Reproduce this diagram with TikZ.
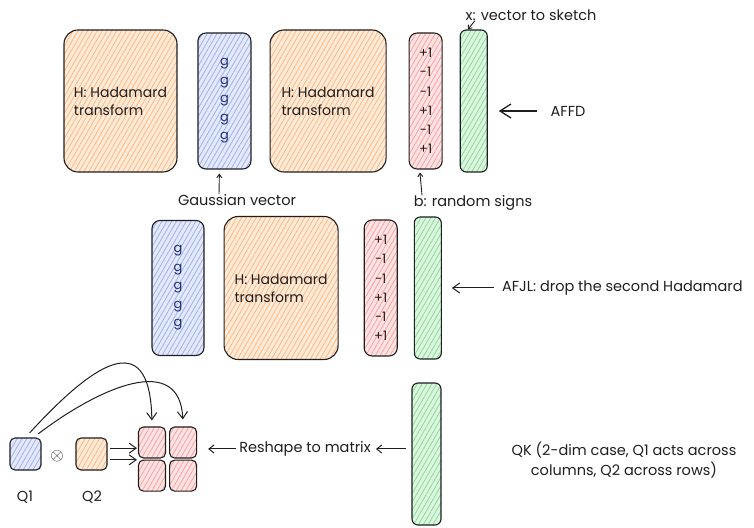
\documentclass[tikz,border=0pt]{standalone}
\usepackage{fontspec}
\setmainfont{Poppins}
\usetikzlibrary{positioning,arrows.meta,patterns.meta}

\definecolor{inkc}{HTML}{1E1E1E}
\definecolor{hadafill}{HTML}{FFB77A}
\definecolor{gaussfill}{HTML}{9FB0F2}
\definecolor{signfill}{HTML}{FF9E9E}
\definecolor{vecfill}{HTML}{86DE95}
\definecolor{gink}{HTML}{22306E}

\begin{document}
\begin{tikzpicture}[
      every node/.style={inner sep=0pt,text=inkc,
                         font=\fontsize{14.5}{18}\selectfont},
      hatched/.style={draw=inkc,line width=1.1pt,preaction={fill=#1!28},
                      pattern={Lines[angle=60,distance=4.2pt,line width=0.8pt]},
                      pattern color=#1},
      hada/.style={hatched=hadafill,rounded corners=14pt,align=left,
                   minimum width=114pt,minimum height=142pt,
                   font=\fontsize{14}{18}\selectfont},
      gauss/.style={hatched=gaussfill,rounded corners=8pt,align=center,
                    minimum width=53pt,minimum height=136pt,text=gink,
                    font=\fontsize{13}{18.5}\selectfont},
      signs/.style={hatched=signfill,rounded corners=8pt,align=center,
                    minimum width=33pt,minimum height=136pt,
                    font=\fontsize{13}{19.3}\selectfont},
      vec/.style={hatched=vecfill,rounded corners=6pt,
                  minimum width=27pt,minimum height=142pt},
      tiny/.style={hatched=#1,rounded corners=5pt,
                   minimum width=31pt,minimum height=32pt},
      cell/.style={hatched=signfill,rounded corners=5pt,
                   minimum width=27pt,minimum height=31pt},
      single/.style={draw=inkc,line width=1pt,
                     -{Straight Barb[length=7pt,width=10pt]}},
      big/.style={draw=inkc,line width=1.3pt,
                  -{Straight Barb[length=11pt,width=14pt]}},
      pointer/.style={draw=inkc,line width=0.9pt,
                      -{Straight Barb[length=3.5pt,width=5pt]}},
    ]
      \useasboundingbox (0,0) rectangle (754pt,527pt);
      \begin{scope}[x=1pt,y=1pt]
      % AFFD
      \node[hada,minimum width=113pt] (h1) at (120.5,426) {H: Hadamard\\transform};
      \node[gauss, right=20pt of h1] (g1) {g\\g\\g\\g\\g};
      \node[hada, minimum width=116pt, right=18pt of g1] (h2) {H: Hadamard\\transform};
      \node[signs, right=22pt of h2] (b1) {+1\\-1\\-1\\+1\\-1\\+1};
      \node[vec, right=17pt of b1] (x1) {};
      \node (xlbl) at (531,512) {x: vector to sketch};
      \node (glbl) at (237,327) {Gaussian vector};
      \node (blbl) at (473,324) {b: random signs};
      \node (affd) at (568,416) {AFFD};
      \path ([xshift=-56pt]xlbl.south) edge[pointer] ([xshift=8pt]x1.north west);
      \path ([xshift=-18pt]glbl.north) edge[pointer,shorten >=4pt] ([xshift=-5pt]g1.south);
      \path ([xshift=-51pt]blbl.north) edge[pointer,shorten >=3pt] ([xshift=-6pt]b1.south);
      \path (affd.west) edge[big,shorten <=13pt,shorten >=11pt] (affd.west -| x1.east);

      % AFJL
      \node[gauss,minimum width=52pt,minimum height=135pt] (g2) at (178,239) {g\\g\\g\\g\\g};
      \node[hada,minimum height=143pt, right=19pt of g2] (h3) {H: Hadamard\\transform};
      \node[signs, right=25pt of h3] (b2) {+1\\-1\\-1\\+1\\-1\\+1};
      \node[vec, right=16pt of b2] (x2) {};
      \node[anchor=west, right=60pt of x2] (afjl) {AFJL: drop the second Hadamard};
      \path (afjl.west) edge[single,shorten <=8pt,shorten >=10pt] (afjl.west -| x2.east);

      % QK
      \node[vec,minimum width=29pt] (x3) at (426.5,73) {};
      \node[tiny=gaussfill] (q1) at (25.5,73) {};
      \node[font=\fontsize{18}{18}\selectfont] (kron) at (57,71) {$\otimes$};
      \node[tiny=hadafill] (q2) at (91.5,73) {};
      \node (q1lbl) at (25,30) {Q1};
      \node (q2lbl) at (92,30) {Q2};
      \node[cell] (m11) at (152,84.5) {};
      \node[cell, right=3pt of m11] (m12) {};
      \node[cell, below=1pt of m11] (m21) {};
      \node[cell, right=3pt of m21] (m22) {};
      \node (reshape) at (305,78) {Reshape to matrix};
      \node[align=center,font=\fontsize{14.5}{20}\selectfont] (qk) at (624,67)
        {QK (2-dim case, Q1 acts across\\columns, Q2 across rows)};
      \draw[single,shorten <=6pt,shorten >=6pt]
        (q1.north) .. controls (90,160) and (150,205) .. (m11.north);
      \draw[single,shorten <=6pt,shorten >=7pt]
        ([xshift=8pt]q1.north) .. controls (100,140) and (180,175) .. (m12.north);
      \path (q2.20) edge[single,shorten <=2pt,shorten >=1pt] (q2.20 -| m11.west);
      \path (q2.-20) edge[single,shorten <=2pt,shorten >=1pt] (q2.-20 -| m21.west);
      \path (reshape.west) edge[pointer,line width=1pt,shorten <=3pt,shorten >=11pt,
            -{Straight Barb[length=5pt,width=8pt]}] (reshape.west -| m12.east);
      \path (x3.west |- reshape.east) edge[pointer,line width=1pt,shorten <=5pt,shorten >=5pt,
            -{Straight Barb[length=5pt,width=8pt]}] (reshape.east);
      \end{scope}
    \end{tikzpicture}
\end{document}
